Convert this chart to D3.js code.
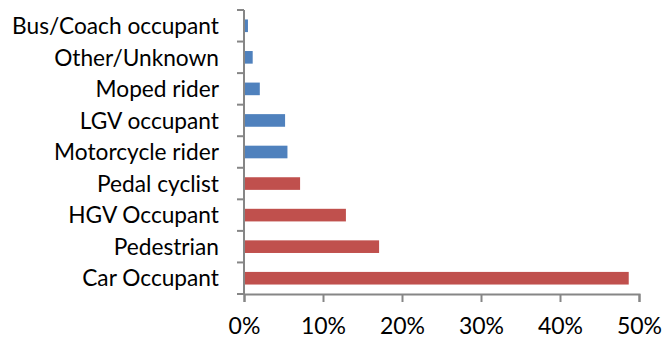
<!DOCTYPE html>
<html>
<head>
<meta charset="utf-8">
<script src="https://cdn.jsdelivr.net/npm/d3@7"></script>
<style>
  html, body { margin: 0; padding: 0; background: #fff; }
  svg { display: block; }
  text { font-family: Lato, "Open Sans", sans-serif; fill: #000; }
</style>
</head>
<body>
<svg id="chart" width="664" height="339"></svg>
<script>
// Road user groups, top to bottom
const categories = [
  "Bus/Coach occupant", "Other/Unknown", "Moped rider", "LGV occupant",
  "Motorcycle rider", "Pedal cyclist", "HGV Occupant", "Pedestrian", "Car Occupant"
];
// Share of casualties (%)
const shares = [0.5, 1.1, 2.0, 5.2, 5.5, 7.1, 12.9, 17.1, 48.7];
// Group each bar belongs to (drives the fill colour)
const groups = ["minor", "minor", "minor", "minor", "minor", "major", "major", "major", "major"];
const tickValues = [0, 10, 20, 30, 40, 50];

const colors = { minor: "#4F81BD", major: "#C0504D" };

const plotTop = 10, plotBottom = 294, plotLeft = 244, plotRight = 639;

const svg = d3.select("#chart");

const x = d3.scaleLinear().domain([0, 50]).range([plotLeft, plotRight]);
const y = d3.scaleBand().domain(categories).range([plotTop, plotBottom]).paddingInner(0.6).paddingOuter(0.3);

// Bars
svg.append("g").selectAll("rect")
  .data(categories)
  .join("rect")
  .attr("x", x(0))
  .attr("y", d => y(d))
  .attr("width", (d, i) => x(shares[i]) - x(0))
  .attr("height", y.bandwidth())
  .attr("fill", (d, i) => colors[groups[i]]);

const axisColor = "#868686";

// Category axis with tick marks between bands
const yAxis = svg.append("g").attr("transform", `translate(${x(0)},0)`);
const bandStep = (plotBottom - plotTop) / categories.length;
const bounds = d3.range(categories.length + 1).map(i => plotTop + i * bandStep);
yAxis.append("line")
  .attr("x1", 0).attr("x2", 0)
  .attr("y1", bounds[0]).attr("y2", bounds[bounds.length - 1])
  .attr("stroke", axisColor).attr("stroke-width", 2);
yAxis.selectAll("line.tick")
  .data(bounds)
  .join("line")
  .attr("class", "tick")
  .attr("x1", -7).attr("x2", 0)
  .attr("y1", d => d).attr("y2", d => d)
  .attr("stroke", axisColor).attr("stroke-width", 2);
yAxis.selectAll("text")
  .data(categories)
  .join("text")
  .attr("x", -25)
  .attr("y", d => y(d) + y.bandwidth() / 2)
  .attr("dy", "0.36em")
  .attr("text-anchor", "end")
  .attr("font-size", 22.7)
  .text(d => d);

// Value axis
const xAxis = d3.axisBottom(x)
  .tickValues(tickValues)
  .tickFormat(d => d + "%")
  .tickSize(8)
  .tickPadding(16);
const gx = svg.append("g").attr("transform", `translate(0,${plotBottom})`).call(xAxis);
gx.select(".domain").attr("stroke", axisColor).attr("stroke-width", 2);
gx.selectAll(".tick line").attr("stroke", axisColor).attr("stroke-width", 2);
gx.selectAll(".tick text")
  .attr("font-size", 23)
  .attr("font-family", "Lato, 'Open Sans', sans-serif")
  .attr("fill", "#000");
</script>
</body>
</html>
